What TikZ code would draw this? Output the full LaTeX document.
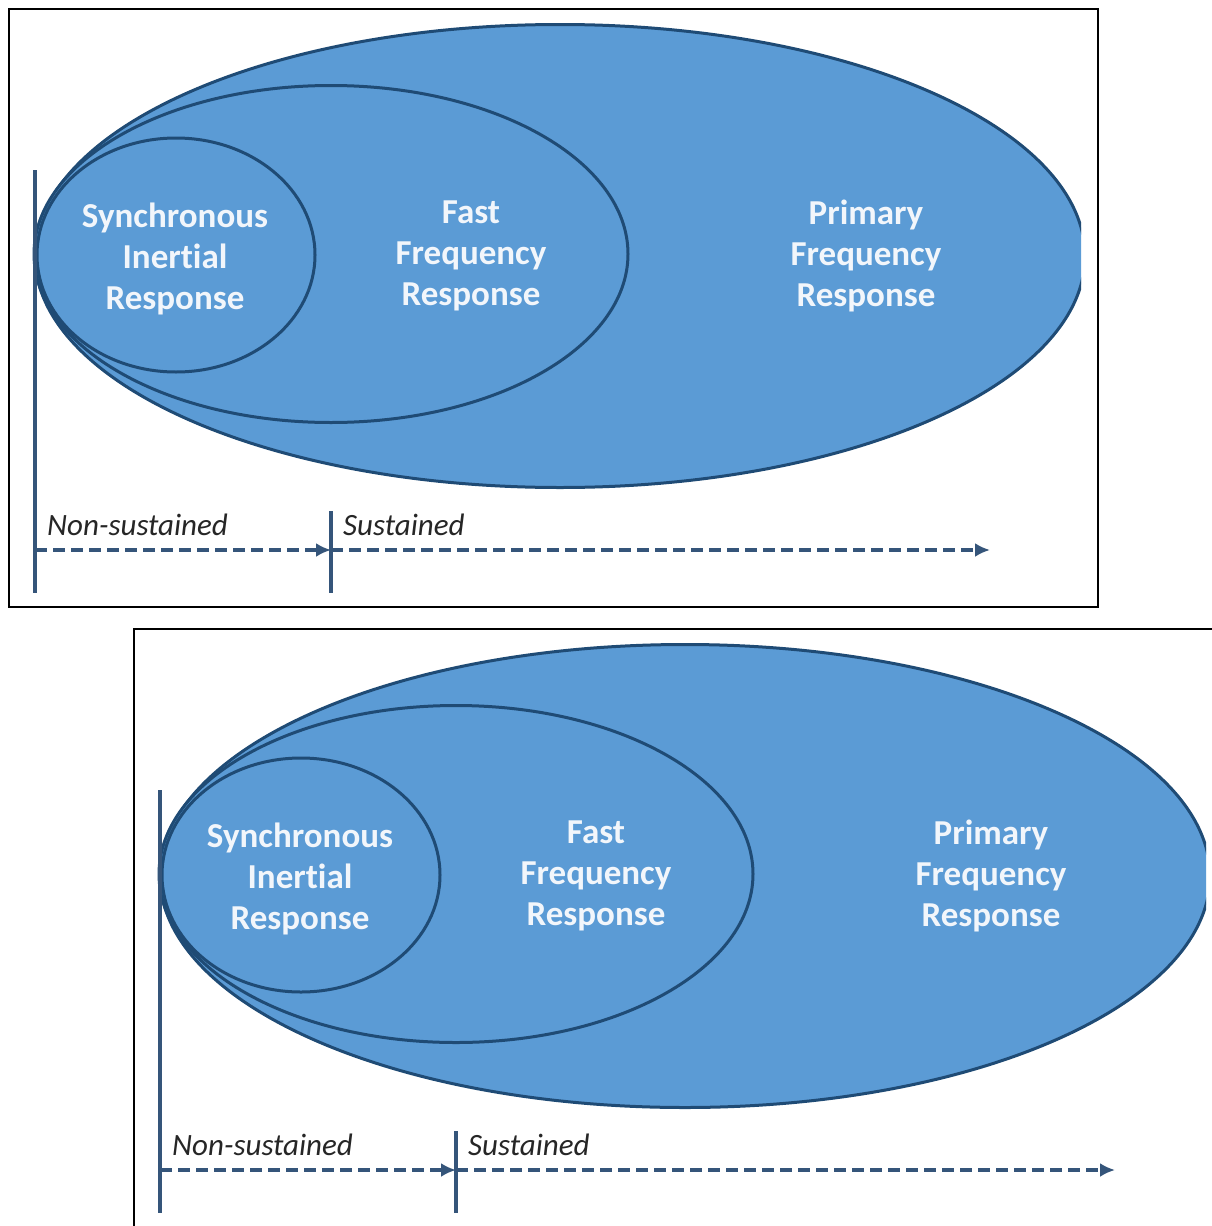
\documentclass[tikz,border=0pt]{standalone}
\usepackage{fontspec}
\setmainfont[Ligatures={NoCommon}]{Carlito}
\usetikzlibrary{shapes.geometric,arrows.meta}
\definecolor{ellfill}{HTML}{5B9BD5}
\definecolor{elledge}{HTML}{1F4B75}
\definecolor{axiscol}{HTML}{35557A}
\definecolor{txtwhite}{HTML}{F2F6FB}
\tikzset{
  ell/.style={ellipse,draw=elledge,fill=ellfill,line width=3pt,inner sep=0pt},
  ringtext/.style={text=txtwhite,align=center,font=\bfseries\fontsize{35}{41}\selectfont},
  phase/.style={text=black!85,font=\itshape\fontsize{31}{34}\selectfont,inner sep=0pt},
  axisline/.style={draw=axiscol,line width=3.5pt},
  dasharrow/.style={draw=axiscol,line width=3.5pt,dash pattern=on 12pt off 6pt,
    -{Latex[length=15pt,width=14pt]}},
  frame/.style={draw=black,line width=2.2pt},
  panel/.pic={
    \begin{scope}
      \clip (-10,0) rectangle (1081,600);
      \node[ell,minimum width=1050pt,minimum height=463pt] (-pfr) at (560,256) {};
    \end{scope}
    \node[ell,minimum width=594pt,minimum height=337pt] (-ffr) at (331,254) {};
    \node[ell,minimum width=278pt,minimum height=234pt] (-sir) at (176,255) {};
    \node[ringtext] (-tsir) at (175,259) {Synchronous\\Inertial\\Response};
    \node[ringtext] (-tffr) at (471,256) {Fast\\Frequency\\Response};
    \node[ringtext] (-tpfr) at (866,256) {Primary\\Frequency\\Response};
    \coordinate (-t0) at (35,170);
    \coordinate (-b0) at (35,593);
    \coordinate (-t1) at (331,511);
    \coordinate (-b1) at (331,593);
    \coordinate (-a0) at (35,550);
    \coordinate (-a1) at (331,550);
    \coordinate (-a2) at (990,550);
    \draw[dasharrow] (-a0) -- (-a1);
    \draw[dasharrow] (-a1) -- (-a2);
    \draw[axisline] (-t0) -- (-b0);
    \draw[axisline] (-t1) -- (-b1);
    \node[phase,anchor=base west] (-ns) at (47,535) {Non-sustained};
    \node[phase,anchor=base west] (-su) at (343,535) {Sustained};
  }
}
\begin{document}
\begin{tikzpicture}[x=1pt,y=-1pt]
\useasboundingbox (0,0) rectangle (1212,1226);
\clip (0,0) rectangle (1212,1226);
\fill[white] (0,0) rectangle (1212,1226);
\node[frame,rectangle,minimum width=1089pt,minimum height=598pt,anchor=north west,inner sep=0pt] (f1) at (8,8) {};
\node[frame,rectangle,minimum width=1100pt,minimum height=620pt,anchor=north west,inner sep=0pt] (f2) at (133,628) {};
\pic (p1) at (0,0) {panel};
\pic (p2) at (125,620) {panel};
\end{tikzpicture}
\end{document}
